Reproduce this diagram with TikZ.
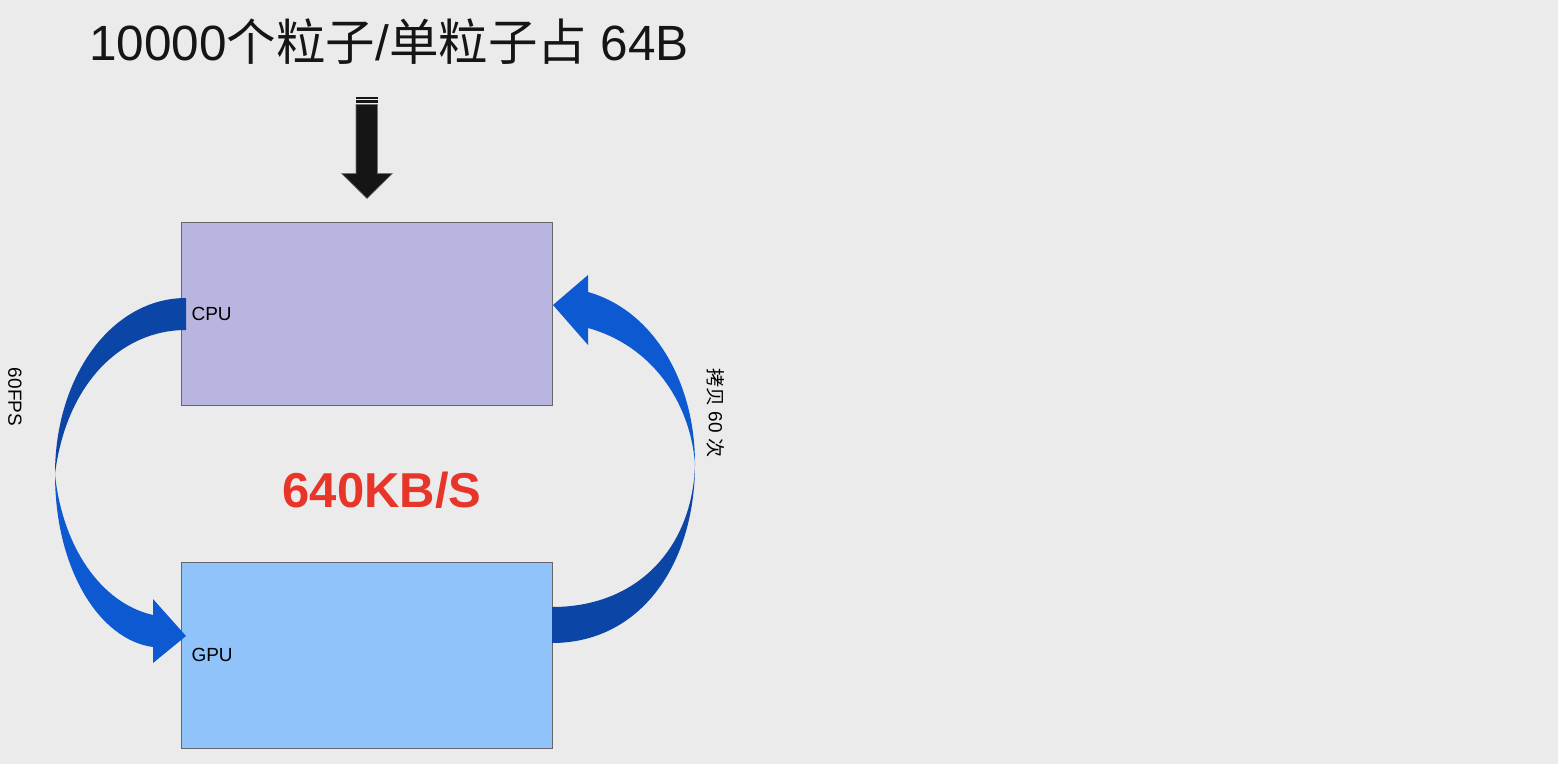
\documentclass[tikz,border=0pt]{standalone}
\usepackage{fontspec}
\setmainfont{Liberation Sans}
\newfontfamily\cjk{Noto Sans CJK SC}
\definecolor{bg}{HTML}{EBEBEB}
\definecolor{cpufill}{HTML}{B8B6E0}
\definecolor{gpufill}{HTML}{8FC3F9}
\definecolor{darkblue}{HTML}{0B46A6}
\definecolor{brightblue}{HTML}{0D59D1}
\definecolor{redtxt}{HTML}{E8352A}
\definecolor{arrowblack}{HTML}{151515}
\tikzset{
  box/.style={draw=black!60, line width=0.8pt, anchor=north west, inner sep=0pt},
  lbl/.style={font=\fontsize{19}{23}\selectfont, text=black},
  darkpart/.style={fill=darkblue, draw=none},
  brightpart/.style={fill=brightblue, draw=none},
}
\begin{document}
\begin{tikzpicture}[x=1pt,y=-1pt]
\fill[bg] (0,0) rectangle (1558,764);
\useasboundingbox (0,0) rectangle (1558,764);

% title
\node[font=\fontsize{49.5}{58}\selectfont, text=arrowblack] (title) at (389,42) {10000{\cjk 个粒子}/{\cjk 单粒子占} 64B};

% down arrow
\fill[arrowblack] (356,96.7) rectangle (377.5,98.7);
\fill[arrowblack] (356,100) rectangle (377.5,102.7);
\filldraw[fill=arrowblack, draw=black!55, line width=0.6pt] (356,104.3) -- (377.5,104.3) -- (377.5,173.5) -- (392.3,173.5) -- (367,198.5) -- (341.7,173.5) -- (356,173.5) -- cycle;

% boxes
\node[box, fill=cpufill, minimum width=371pt, minimum height=183pt] (cpu) at (181,222) {};
\node[box, fill=gpufill, minimum width=371pt, minimum height=186pt] (gpu) at (181,562) {};
\node[lbl, anchor=west] (cpulbl) at (188,314) {CPU};
\node[lbl, anchor=west] (gpulbl) at (188,655) {GPU};

% left curved arrow (CPU -> GPU)
\path[darkpart] (186,298) .. controls (112,298) and (55,376) .. (55,474)
  .. controls (66,385) and (120,330) .. (186,330) -- cycle;
\path[brightpart] (55,474) .. controls (55,570) and (100,640) .. (153,647)
  -- (153,663) -- (186,636) -- (153,599) -- (153,615)
  .. controls (100,603) and (62,545) .. (55,474) -- cycle;

% right curved arrow (GPU -> CPU)
\path[darkpart] (552,643) .. controls (640,643) and (695,565) .. (695,464)
  .. controls (693,545) and (640,607) .. (552,607) -- cycle;
\path[brightpart] (695,464) .. controls (695,380) and (652,310) .. (588,292)
  -- (588,275) -- (553,305) -- (588,345) -- (588,328)
  .. controls (650,345) and (690,400) .. (695,464) -- cycle;

% labels
\node[font=\bfseries\fontsize{49}{58}\selectfont, text=redtxt] (rate) at (382,490) {640KB/S};
\node[lbl, rotate=-90] (fps) at (15,397) {60FPS};
\node[lbl, rotate=-90] (copy) at (716,413) {{\cjk 拷贝} 60 {\cjk 次}};
\end{tikzpicture}
\end{document}
